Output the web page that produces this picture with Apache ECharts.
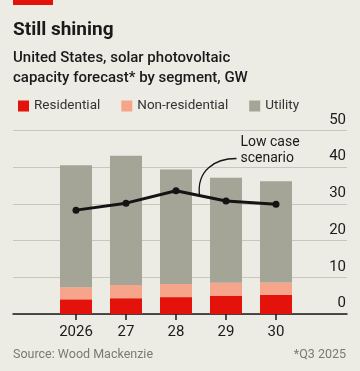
<!DOCTYPE html>
<html><head><meta charset="utf-8">
<script src="https://cdn.jsdelivr.net/npm/echarts@6/dist/echarts.min.js"></script>
<style>html,body{margin:0;padding:0;background:#ecebe4;}#c{width:360px;height:371px;}</style>
</head><body><div id="c"></div>
<script>
const categories = ['2026', '27', '28', '29', '30'];
const residential = [4.0, 4.3, 4.6, 5.0, 5.2];
const nonResidential = [3.3, 3.6, 3.6, 3.5, 3.4];
const utility = [33.2, 35.2, 31.2, 28.6, 27.6];
const lowCase = [28.3, 30.2, 33.6, 30.8, 29.9];
const yTicks = [0, 10, 20, 30, 40, 50];

const FONT = 'Roboto';
const chart = echarts.init(document.getElementById('c'), null, {renderer: 'canvas'});
const gTop = 130.5, gBottom = 371 - 314;
const option = {
  backgroundColor: '#ecebe4',
  animation: false,
  textStyle: {fontFamily: FONT},
  graphic: [
    {type: 'rect', shape: {x: 13, y: 0, width: 40, height: 5}, style: {fill: '#e3120b'}},
    {type: 'text', left: 13, top: 21, style: {text: 'Still shining', font: 'bold 19px ' + FONT, fill: '#1a1a1a'}},
    {type: 'text', left: 13, top: 48, style: {text: 'United States, solar photovoltaic\ncapacity forecast* by segment, GW', font: '500 15px ' + FONT, fill: '#1a1a1a', lineHeight: 20}},
    {type: 'text', left: 13, top: 348, style: {text: 'Source: Wood Mackenzie', font: '12.5px ' + FONT, fill: '#7a7a72'}},
    {type: 'text', right: 14, top: 348, style: {text: '*Q3 2025', font: '12.5px ' + FONT, fill: '#7a7a72', align: 'right'}}
  ],
  legend: {
    left: 13, top: 94, itemWidth: 11, itemHeight: 11, itemGap: 21,
    icon: 'rect',
    textStyle: {fontFamily: FONT, fontSize: 13.5, color: '#333', padding: [0, 0, 0, 0]},
    data: ['Residential', 'Non-residential', 'Utility']
  },
  grid: [
    {left: 13, right: 13, top: gTop, bottom: gBottom},
    {left: 51, width: 250, top: gTop, bottom: gBottom}
  ],
  xAxis: [
    {gridIndex: 0, type: 'value', min: 0, max: 1, axisLine: {show: true, onZero: false, lineStyle: {color: '#1a1a1a', width: 1.5}}, axisTick: {show: false}, axisLabel: {show: false}, splitLine: {show: false}},
    {gridIndex: 1, type: 'category', data: categories, axisLine: {show: false}, axisTick: {show: true, alignWithLabel: true, length: 6, lineStyle: {color: '#1a1a1a', width: 1.5}},
     axisLabel: {color: '#1a1a1a', fontSize: 15, margin: 11, fontFamily: FONT}}
  ],
  yAxis: [
    {gridIndex: 0, type: 'value', position: 'right', min: 0, max: 50, interval: 10,
     axisLine: {show: false}, axisTick: {show: false},
     axisLabel: {inside: true, verticalAlign: 'bottom', margin: 1, padding: [0, 0, 3, 0], color: '#1a1a1a', fontSize: 15, fontFamily: FONT, formatter: v => yTicks.includes(v) ? String(v) : ''},
     splitLine: {show: true, lineStyle: {color: '#c8c7bf', width: 1}}},
    {gridIndex: 1, type: 'value', min: 0, max: 50, interval: 10, show: false, splitLine: {show: false}}
  ],
  series: [
    {name: 'Residential', type: 'bar', stack: 's', xAxisIndex: 1, yAxisIndex: 1, barWidth: 32, data: residential, itemStyle: {color: '#e3120b'}},
    {name: 'Non-residential', type: 'bar', stack: 's', xAxisIndex: 1, yAxisIndex: 1, barWidth: 32, data: nonResidential, itemStyle: {color: '#f6a58b'}},
    {name: 'Utility', type: 'bar', stack: 's', xAxisIndex: 1, yAxisIndex: 1, barWidth: 32, data: utility, itemStyle: {color: '#a4a497'}},
    {name: 'Low case', type: 'line', xAxisIndex: 1, yAxisIndex: 1, data: lowCase, symbol: 'circle', symbolSize: 7,
     lineStyle: {color: '#141414', width: 3}, itemStyle: {color: '#141414'}, z: 5}
  ]
};
chart.setOption(option);

// annotation placed relative to the line between 2028 and 2029
const p2 = chart.convertToPixel({xAxisIndex: 1, yAxisIndex: 1}, [2, lowCase[2]]);
const p3 = chart.convertToPixel({xAxisIndex: 1, yAxisIndex: 1}, [3, lowCase[3]]);
const tt = 0.47;
const ax = p2[0] + (p3[0] - p2[0]) * tt, ay = p2[1] + (p3[1] - p2[1]) * tt;
const sx = ax + 37, sy = ay - 37;
chart.setOption({graphic: option.graphic.concat([
  {type: 'bezierCurve', shape: {x1: sx, y1: sy, cpx1: sx - 22, cpy1: sy, cpx2: ax - 3, cpy2: ay - 25, x2: ax, y2: ay}, style: {stroke: '#141414', lineWidth: 1.3, fill: null}, z: 10},
  {type: 'text', x: sx + 4, y: sy - 24, style: {text: 'Low case\nscenario', font: '14px ' + FONT, fill: '#1a1a1a', lineHeight: 16}, z: 10}
])});
</script></body></html>
